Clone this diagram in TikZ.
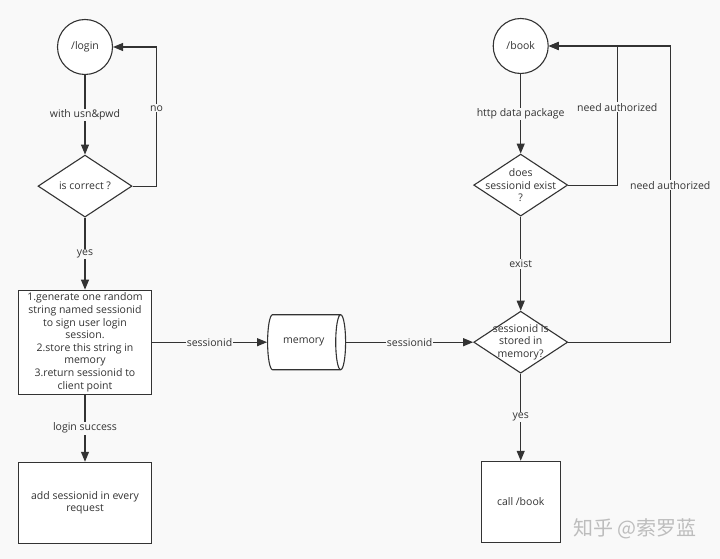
\documentclass[tikz,border=0pt]{standalone}
\usepackage{fontspec}
\setmainfont{Open Sans}
\newfontfamily\cjkfont{Noto Sans CJK SC}
\usepackage{tikz}
\usetikzlibrary{arrows.meta,calc,positioning,shapes.geometric}
\definecolor{FlowInk}{HTML}{333333}
\definecolor{FlowPaper}{HTML}{F9F9F9}
\definecolor{FlowMark}{HTML}{BDBDBD}
\tikzset{
  fcnode/.style={draw=FlowInk, fill=white, line width=1.1pt, text=FlowInk, align=center, font=\fontsize{10.5}{12.6}\selectfont},
  fcroute/.style={fcnode, circle, minimum size=55pt, inner sep=0pt},
  fcbox/.style={fcnode, rectangle, inner sep=1pt},
  fcdecide/.style={fcnode, diamond, minimum width=94pt, minimum height=62pt, inner sep=0pt},
  fcinside/.style={align=center, text=FlowInk, inner sep=0pt, font=\fontsize{10.5}{12.2}\selectfont},
  fcstore/.style={fcnode, cylinder, aspect=1.2, minimum width=55pt, minimum height=78pt, inner sep=0pt},
  fcarrow/.style={-{Triangle[length=10pt,width=8pt]}, line width=1.1pt, draw=FlowInk},
  fclabel/.style={fill=FlowPaper, text=FlowInk, inner sep=1pt, font=\fontsize{10.5}{12.6}\selectfont}
}
\begin{document}
\begin{tikzpicture}
  \fill[FlowPaper] (0,0) rectangle (720pt,-559pt);
  \node[fcroute] (login) at (85pt,-47pt) {/login};
  \node[fcdecide, below=79.5pt of login, label={[fcinside]center:{is correct ?}}] (correct) {};
  \node[fcbox, minimum width=133pt, minimum height=104pt, below=72pt of correct] (issue) {1.generate one random\\string named sessionid\\to sign user login\\session.\\2.store this string in\\memory\\3.return sessionid to\\client point};
  \node[fcbox, minimum width=133pt, minimum height=81pt, below=67pt of issue] (carry) {add sessionid in every\\request};
  \node[fcstore, right=115pt of issue] (memory) {memory};
  \node[fcdecide, right=127pt of memory, label={[fcinside]center:{sessionid is\\stored in\\memory?}}] (stored) {};
  \node[fcdecide, above=94pt of stored, label={[fcinside]center:{does\\sessionid exist\\?}}] (exist) {};
  \node[fcroute, above=79.5pt of exist] (book) {/book};
  \node[fcbox, minimum width=79pt, minimum height=81pt, below=87pt of stored] (call) {call /book};
  \node[text=FlowMark, font=\cjkfont\fontsize{20}{24}\selectfont] (mark) at (635pt,-529pt) {知乎 @索罗蓝};
  \draw[fcarrow] (login) -- node[fclabel] {with usn\&pwd} (correct);
  \draw[fcarrow] (correct.east) -- ++(24pt,0) |- node[fclabel, pos=0.28] {no} (login.east);
  \draw[fcarrow] (correct) -- node[fclabel] {yes} (issue);
  \draw[fcarrow] (issue) -- node[fclabel] {login success} (carry);
  \draw[fcarrow] (issue) -- node[fclabel] {sessionid} (memory);
  \draw[fcarrow] (memory) -- node[fclabel] {sessionid} (stored);
  \draw[fcarrow] (book) -- node[fclabel] {http data package} (exist);
  \draw[fcarrow] (exist.east) -- ++(49pt,0) |- node[fclabel, pos=0.28] {need authorized} (book.east);
  \draw[fcarrow] (exist) -- node[fclabel] {exist} (stored);
  \draw[fcarrow] (stored.east) -- ++(102pt,0) |- node[fclabel, pos=0.265] {need authorized} (book.east);
  \draw[fcarrow] (stored) -- node[fclabel] {yes} (call);
\end{tikzpicture}
\end{document}
